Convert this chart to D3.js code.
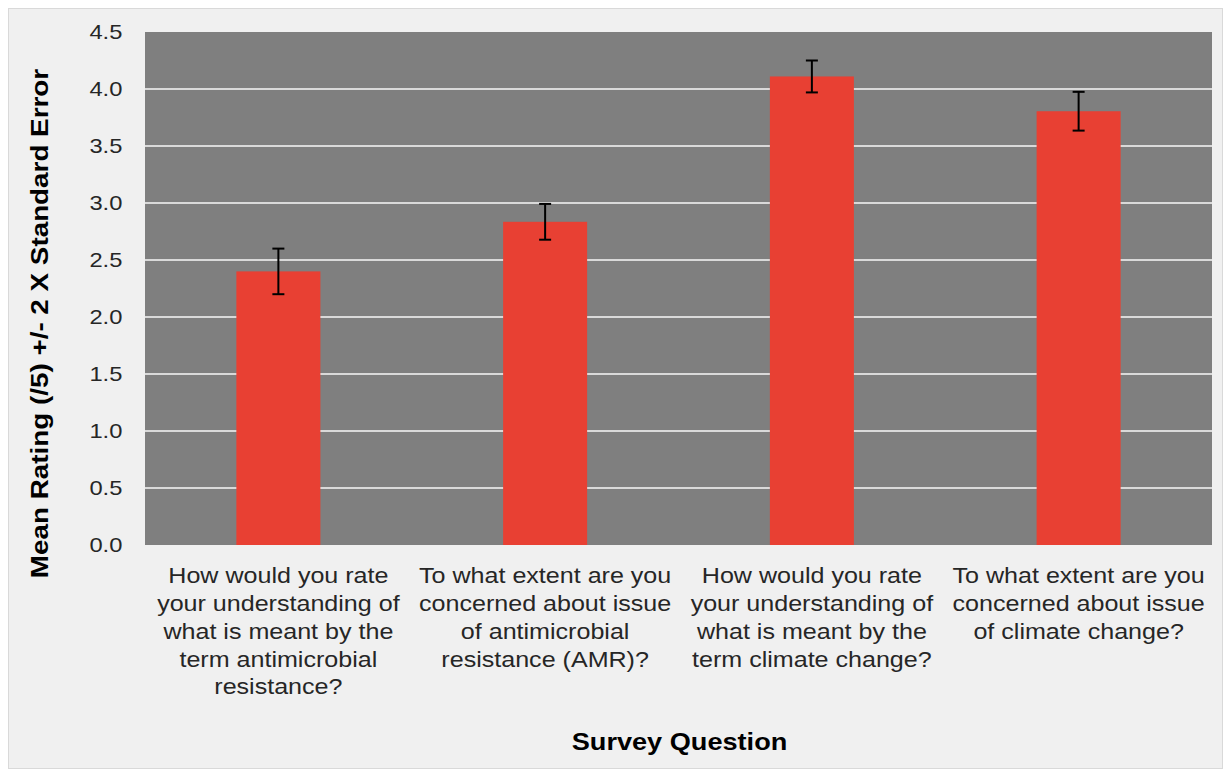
<!DOCTYPE html>
<html><head><meta charset="utf-8">
<script src="https://cdn.jsdelivr.net/npm/d3@7"></script>
<style>body{margin:0;background:#fff;}svg{display:block;font-family:"Liberation Sans",Arial,sans-serif;}</style>
</head><body>
<svg id="c" width="1225" height="771"></svg>
<script>
const categories = [
  ["How would you rate","your understanding of","what is meant by the","term antimicrobial","resistance?"],
  ["To what extent are you","concerned about issue","of antimicrobial","resistance (AMR)?"],
  ["How would you rate","your understanding of","what is meant by the","term climate change?"],
  ["To what extent are you","concerned about issue","of climate change?"]
];
const means = [2.40, 2.835, 4.11, 3.805];
const errors = [0.20, 0.157, 0.14, 0.17];
const yTicks = [0,0.5,1,1.5,2,2.5,3,3.5,4,4.5];
const yTitle = "Mean Rating (/5) +/- 2 X Standard Error";
const xTitle = "Survey Question";

const svg = d3.select("#c");
svg.append("rect").attr("x",8.5).attr("y",8.5).attr("width",1214).attr("height",760)
  .attr("fill","#f0f0f0").attr("stroke","#d9d9d9");
const m = {l:145, r:1212, t:32, b:545};
const x = d3.scaleBand().domain(d3.range(categories.length)).range([m.l,m.r]).paddingInner(0.685).paddingOuter(0.3425);
const y = d3.scaleLinear().domain([0,4.5]).range([m.b,m.t]);

svg.append("rect").attr("x",m.l).attr("y",m.t).attr("width",m.r-m.l).attr("height",m.b-m.t).attr("fill","#7f7f7f");
svg.append("g").selectAll("line").data(yTicks.filter(d=>d>0 && d<4.5)).join("line")
  .attr("x1",m.l).attr("x2",m.r).attr("y1",d=>y(d)).attr("y2",d=>y(d))
  .attr("stroke","#d9d9d9").attr("stroke-width",2);

const yAxis = svg.append("g").attr("transform",`translate(${m.l},0)`)
  .call(d3.axisLeft(y).tickValues(yTicks).tickFormat(d3.format(".1f")).tickSize(0).tickPadding(20));
yAxis.select(".domain").remove();
yAxis.selectAll("text").attr("font-size",21).attr("fill","#262626")
  .attr("font-family","Liberation Sans, Arial, sans-serif").attr("transform","scale(1.13,1)");

svg.append("g").selectAll("rect").data(means).join("rect")
  .attr("x",(d,i)=>x(i)).attr("width",x.bandwidth())
  .attr("y",d=>y(d)).attr("height",d=>y(0)-y(d)).attr("fill","#e84033");

const eb = svg.append("g").attr("stroke","#000").attr("stroke-width",2);
means.forEach((d,i)=>{
  const cx = x(i)+x.bandwidth()/2;
  eb.append("line").attr("x1",cx).attr("x2",cx).attr("y1",y(d+errors[i])).attr("y2",y(d-errors[i]));
  [d+errors[i], d-errors[i]].forEach(v=>{
    eb.append("line").attr("x1",cx-6).attr("x2",cx+6).attr("y1",y(v)).attr("y2",y(v));
  });
});

const xl = svg.append("g");
categories.forEach((lines,i)=>{
  const cx = x(i)+x.bandwidth()/2;
  const t = xl.append("text").attr("text-anchor","middle").attr("font-size",22).attr("fill","#262626")
    .attr("transform",`translate(${cx},0) scale(1.14,1)`);
  lines.forEach((s,j)=>t.append("tspan").attr("x",0).attr("y",583.5+j*27.75).text(s));
});

svg.append("text").attr("transform","translate(48,323.5) rotate(-90) scale(1.21,1)").attr("text-anchor","middle")
  .attr("font-size",23).attr("font-weight","bold").attr("fill","#000").text(yTitle);
svg.append("text").attr("transform","translate(679.5,750) scale(1.18,1)").attr("text-anchor","middle")
  .attr("font-size",23).attr("font-weight","bold").attr("fill","#000").text(xTitle);
</script>
</body></html>
